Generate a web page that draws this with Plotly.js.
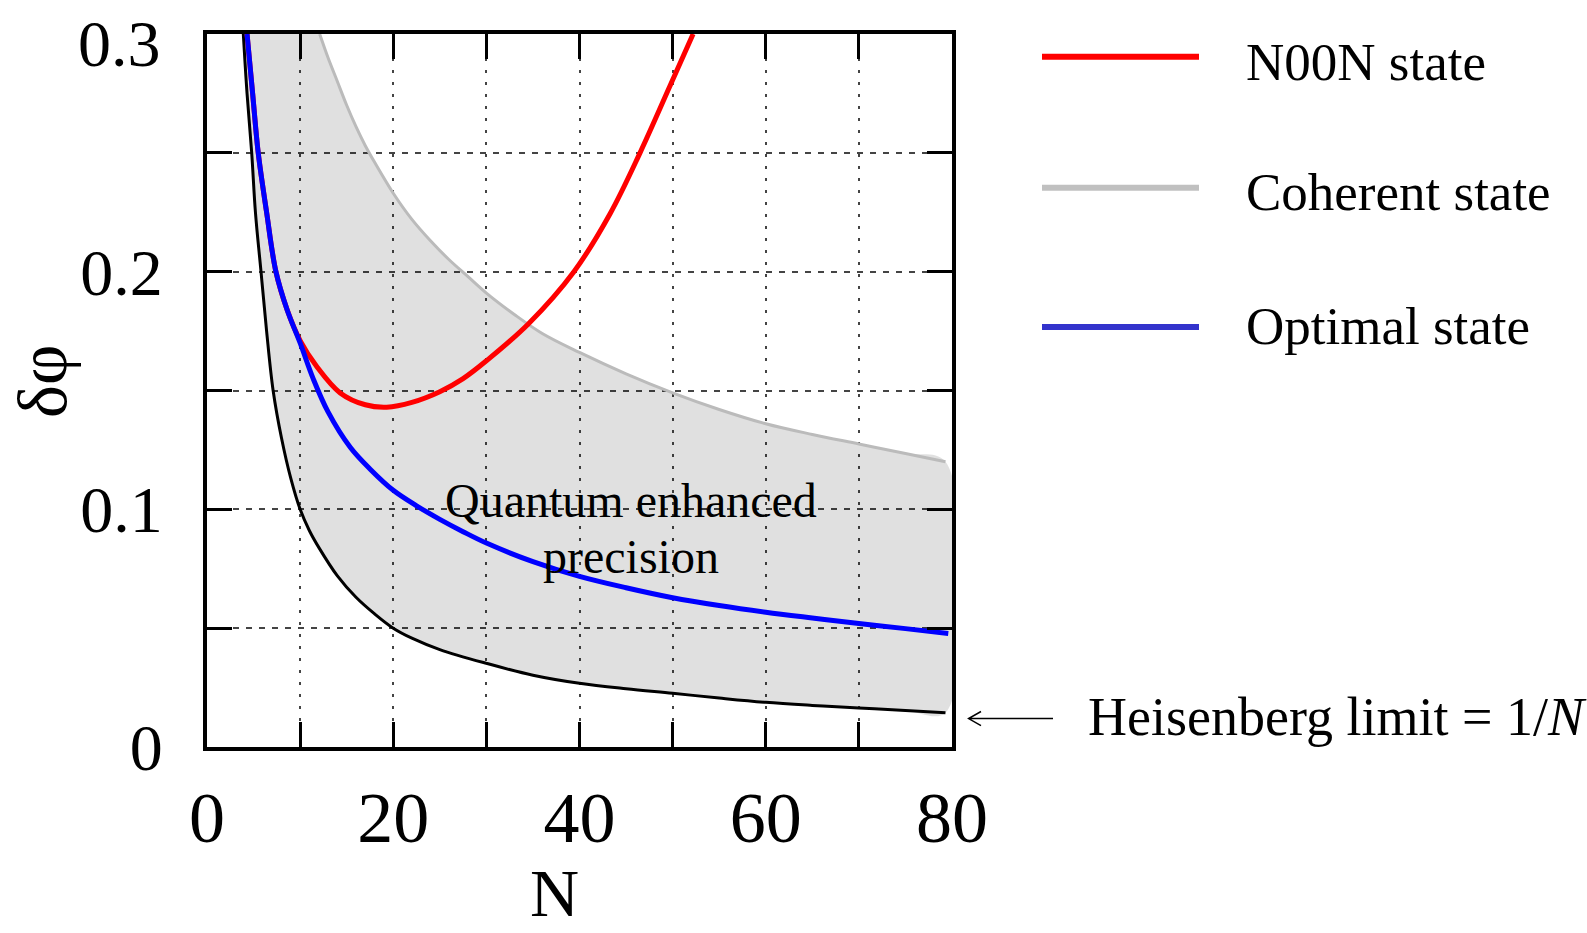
<!DOCTYPE html>
<html>
<head>
<meta charset="utf-8">
<script src="https://cdn.plot.ly/plotly-3.0.1.min.js"></script>
<style>html,body{margin:0;padding:0;background:#fff;}#chart{width:1587px;height:933px;}</style>
</head>
<body>
<div id="chart"></div>
<script>
// Heisenberg limit (black)
const heisN = [3.9, 4.3, 4.8, 5.2, 5.8, 6.4, 7.1, 8, 9, 10, 11, 12, 14, 16, 18, 20, 22, 25, 30, 35, 40, 45, 50, 55, 60, 65, 70, 75, 79.3];
const heisY = [0.300, 0.275, 0.250, 0.225, 0.200, 0.175, 0.150, 0.130, 0.113, 0.100, 0.091, 0.084, 0.072, 0.063, 0.056, 0.050, 0.0458, 0.041, 0.0352, 0.0302, 0.0268, 0.0245, 0.0226, 0.0206, 0.0188, 0.0175, 0.0164, 0.0154, 0.0144];
// Coherent state (gray)
const cohN = [12.1, 13, 14, 15, 16, 17, 18, 20, 22, 24, 26, 28, 30, 33, 36, 40, 45, 50, 55, 60, 65, 70, 75, 79.3];
const cohY = [0.300, 0.290, 0.280, 0.270, 0.261, 0.253, 0.246, 0.233, 0.222, 0.213, 0.205, 0.198, 0.191, 0.182, 0.174, 0.166, 0.157, 0.149, 0.142, 0.136, 0.1315, 0.1275, 0.1235, 0.120];
// Optimal state (blue)
const optN = [4.3, 4.9, 5.5, 6.4, 7.4, 8.6, 10, 11.4, 13, 15.4, 17.5, 20, 22.5, 25, 27.5, 30, 35, 40, 45, 50, 55, 60, 65, 70, 75, 79.6];
const optY = [0.300, 0.275, 0.250, 0.225, 0.200, 0.184, 0.170, 0.155, 0.141, 0.126, 0.117, 0.108, 0.1015, 0.0958, 0.0906, 0.0858, 0.078, 0.0718, 0.067, 0.0628, 0.0595, 0.0567, 0.0543, 0.052, 0.0498, 0.0478];
// N00N state (red)
const noonN = [4.3, 4.9, 5.5, 6.4, 7.4, 8.6, 10, 11.8, 14.3, 17, 19.3, 22, 25, 27.5, 30, 34.5, 39.4, 43.3, 46.5, 49.7, 52.2];
const noonY = [0.300, 0.275, 0.250, 0.225, 0.200, 0.184, 0.171, 0.160, 0.149, 0.144, 0.143, 0.145, 0.1495, 0.155, 0.1625, 0.178, 0.200, 0.2245, 0.25, 0.278, 0.300];

const xTicks = [0, 20, 40, 60, 80];
const yTicks = [0, 0.1, 0.2, 0.3];
const yTickText = ['0', '0.1', '0.2', '0.3'];
const legendNames = ['N00N state', 'Coherent state', 'Optimal state'];
const legendColors = ['#ff0000', '#c0c0c0', '#3333cc'];

const serif = 'Liberation Serif, Times New Roman, serif';

// shaded region between Heisenberg limit and coherent state
const fillX = heisN.concat(cohN.slice().reverse());
const fillY = heisY.concat(cohY.slice().reverse());

const traces = [
  {x: fillX, y: fillY, type: 'scatter', mode: 'lines', fill: 'toself',
   fillcolor: 'rgba(0,0,0,0.12)', line: {width: 0, shape: 'spline'}, hoverinfo: 'skip', showlegend: false},
  {x: cohN, y: cohY, type: 'scatter', mode: 'lines', name: legendNames[1],
   line: {color: '#bbbbbb', width: 3, shape: 'spline'}, showlegend: false},
  {x: heisN, y: heisY, type: 'scatter', mode: 'lines', name: 'Heisenberg limit',
   line: {color: '#000000', width: 3, shape: 'spline'}, showlegend: false},
  {x: noonN, y: noonY, type: 'scatter', mode: 'lines', name: legendNames[0],
   line: {color: '#ff0000', width: 5, shape: 'spline'}, showlegend: false},
  {x: optN, y: optY, type: 'scatter', mode: 'lines', name: legendNames[2],
   line: {color: '#0000ff', width: 5, shape: 'spline'}, showlegend: false}
];

const px = v => (v - 207) / 745;
const py = v => (747 - v) / 713;

const legendLineY = [56.7, 187.7, 327];
const legendTextY = [62, 192.5, 326];

const shapes = [];
const annotations = [];
for (let i = 0; i < legendNames.length; i++) {
  shapes.push({type: 'line', xref: 'paper', yref: 'paper', x0: px(1042), x1: px(1199),
    y0: py(legendLineY[i]), y1: py(legendLineY[i]), line: {color: legendColors[i], width: 6}});
  annotations.push({xref: 'paper', yref: 'paper', x: px(1244), y: py(legendTextY[i]),
    xanchor: 'left', yanchor: 'middle', showarrow: false, text: legendNames[i],
    font: {family: serif, size: 53, color: '#000'}});
}
// top y tick label sits a little below its tick (kept inside the page)
const topLabel = yTickText[yTickText.length - 1];
const shownYText = yTickText.slice(0, -1).concat(['']);
annotations.push({xref: 'paper', yref: 'paper', x: px(163), y: py(43), xanchor: 'right', yanchor: 'middle',
  showarrow: false, text: topLabel, font: {family: serif, size: 66, color: '#000'}});
// arrow to Heisenberg limit
shapes.push({type: 'path', xref: 'paper', yref: 'paper',
  path: `M ${px(1053)} ${py(718.6)} L ${px(968.6)} ${py(718.6)} M ${px(981)} ${py(711.5)} L ${px(968.6)} ${py(718.6)} L ${px(981)} ${py(725.7)}`,
  line: {color: '#000', width: 1.5}});
annotations.push({xref: 'paper', yref: 'paper', x: px(1086), y: py(717), xanchor: 'left', yanchor: 'middle',
  showarrow: false, text: 'Heisenberg limit = 1/<i>N</i>', font: {family: serif, size: 54, color: '#000'}});
annotations.push({xref: 'paper', yref: 'paper', x: px(630.5), y: py(500.5), xanchor: 'center', yanchor: 'middle',
  showarrow: false, text: 'Quantum enhanced', font: {family: serif, size: 48, color: '#000'}});
annotations.push({xref: 'paper', yref: 'paper', x: px(631), y: py(556.5), xanchor: 'center', yanchor: 'middle',
  showarrow: false, text: 'precision', font: {family: serif, size: 48, color: '#000'}});
// axis titles
annotations.push({xref: 'paper', yref: 'paper', x: px(554.6), y: py(933), xanchor: 'center', yanchor: 'bottom',
  showarrow: false, text: 'N', font: {family: serif, size: 68, color: '#000'}});
annotations.push({xref: 'paper', yref: 'paper', x: px(42), y: py(382), xanchor: 'center', yanchor: 'middle',
  showarrow: false, text: 'δφ', textangle: -90, font: {family: serif, size: 70, color: '#000'}});

const layout = {
  width: 1587, height: 933,
  margin: {l: 207, r: 635, t: 34, b: 186, pad: 0},
  paper_bgcolor: '#ffffff', plot_bgcolor: '#ffffff',
  showlegend: false,
  xaxis: {
    range: [0, 80], tickvals: xTicks, ticktext: xTicks.map(String),
    ticks: 'inside', ticklen: 25, tickwidth: 3, tickcolor: '#000',
    showline: true, linewidth: 4, linecolor: '#000', mirror: 'allticks',
    showgrid: true, gridcolor: '#444', gridwidth: 2, griddash: '3px,9px',
    zeroline: false, ticklabelstandoff: 5, ticklabeloverflow: 'allow',
    tickfont: {family: serif, size: 72, color: '#000'},
    minor: {dtick: 10, tick0: 0, ticks: 'inside', ticklen: 25, tickwidth: 3, tickcolor: '#000',
            showgrid: true, gridcolor: '#444', gridwidth: 2, griddash: '3px,9px'}
  },
  yaxis: {
    range: [0, 0.3], tickvals: yTicks, ticktext: shownYText,
    ticks: 'inside', ticklen: 25, tickwidth: 3, tickcolor: '#000',
    showline: true, linewidth: 4, linecolor: '#000', mirror: 'allticks',
    showgrid: true, gridcolor: '#444', gridwidth: 2, griddash: '6px,7px',
    zeroline: false, ticklabelstandoff: 27, ticklabeloverflow: 'allow',
    tickfont: {family: serif, size: 66, color: '#000'},
    minor: {dtick: 0.05, tick0: 0, ticks: 'inside', ticklen: 25, tickwidth: 3, tickcolor: '#000',
            showgrid: true, gridcolor: '#444', gridwidth: 2, griddash: '6px,7px'}
  },
  shapes: shapes,
  annotations: annotations
};

Plotly.newPlot('chart', traces, layout, {staticPlot: true, displayModeBar: false});
</script>
</body>
</html>
